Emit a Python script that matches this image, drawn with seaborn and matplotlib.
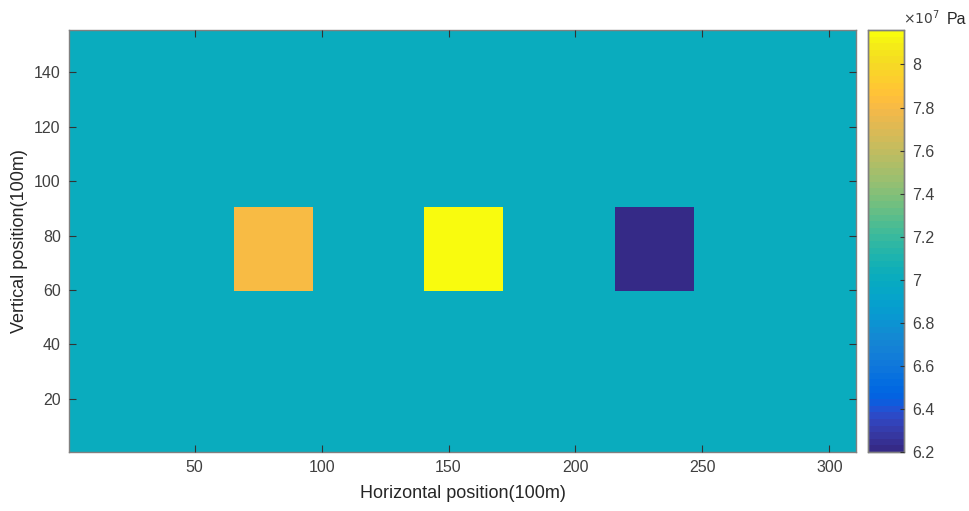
import numpy as np
import matplotlib
matplotlib.use("Agg")
import matplotlib.pyplot as plt
from matplotlib.colors import ListedColormap
import seaborn as sns

# Grid size (cells) and pressure field description
n_cols = 310
n_rows = 155
background_pa = 7.0e7
block_cols = [(66, 96), (141, 171), (216, 246)]   # inclusive column ranges (1-based)
block_rows = [(60, 90), (60, 90), (60, 90)]       # inclusive row ranges (1-based)
block_values = [7.8e7, 8.16e7, 6.2e7]

x_ticks = [50, 100, 150, 200, 250, 300]
y_ticks = [20, 40, 60, 80, 100, 120, 140]
cbar_ticks = [6.2, 6.4, 6.6, 6.8, 7.0, 7.2, 7.4, 7.6, 7.8, 8.0]

# MATLAB parula colormap, 64 entries
parula = [
    [0.2081, 0.1663, 0.5292], [0.2116, 0.1898, 0.5777], [0.2123, 0.2138, 0.6270], [0.2081, 0.2386, 0.6771],
    [0.1959, 0.2645, 0.7279], [0.1707, 0.2919, 0.7792], [0.1253, 0.3242, 0.8303], [0.0591, 0.3598, 0.8683],
    [0.0117, 0.3875, 0.8820], [0.0060, 0.4086, 0.8828], [0.0165, 0.4266, 0.8786], [0.0329, 0.4430, 0.8720],
    [0.0498, 0.4586, 0.8641], [0.0629, 0.4737, 0.8554], [0.0723, 0.4887, 0.8467], [0.0779, 0.5040, 0.8384],
    [0.0793, 0.5200, 0.8312], [0.0749, 0.5375, 0.8263], [0.0641, 0.5570, 0.8240], [0.0488, 0.5772, 0.8228],
    [0.0343, 0.5966, 0.8199], [0.0265, 0.6137, 0.8135], [0.0239, 0.6287, 0.8038], [0.0231, 0.6418, 0.7913],
    [0.0228, 0.6535, 0.7768], [0.0267, 0.6642, 0.7607], [0.0384, 0.6743, 0.7436], [0.0590, 0.6838, 0.7254],
    [0.0843, 0.6928, 0.7062], [0.1133, 0.7015, 0.6859], [0.1453, 0.7098, 0.6646], [0.1801, 0.7177, 0.6424],
    [0.2178, 0.7250, 0.6193], [0.2586, 0.7317, 0.5954], [0.3022, 0.7376, 0.5712], [0.3482, 0.7424, 0.5473],
    [0.3953, 0.7459, 0.5244], [0.4420, 0.7481, 0.5033], [0.4871, 0.7491, 0.4840], [0.5300, 0.7491, 0.4661],
    [0.5709, 0.7485, 0.4494], [0.6099, 0.7473, 0.4337], [0.6473, 0.7456, 0.4188], [0.6834, 0.7435, 0.4044],
    [0.7184, 0.7411, 0.3905], [0.7525, 0.7384, 0.3768], [0.7858, 0.7356, 0.3633], [0.8185, 0.7327, 0.3498],
    [0.8507, 0.7299, 0.3360], [0.8824, 0.7274, 0.3217], [0.9139, 0.7258, 0.3063], [0.9450, 0.7261, 0.2886],
    [0.9739, 0.7314, 0.2666], [0.9938, 0.7455, 0.2403], [0.9990, 0.7653, 0.2164], [0.9955, 0.7861, 0.1967],
    [0.9880, 0.8066, 0.1794], [0.9789, 0.8271, 0.1633], [0.9697, 0.8481, 0.1475], [0.9626, 0.8705, 0.1309],
    [0.9589, 0.8949, 0.1132], [0.9598, 0.9218, 0.0948], [0.9661, 0.9514, 0.0755], [0.9763, 0.9831, 0.0538],
]
cmap = ListedColormap(parula, name="parula")

# Build the pressure field
field = np.full((n_rows, n_cols), background_pa)
for (c0, c1), (r0, r1), v in zip(block_cols, block_rows, block_values):
    field[r0 - 1:r1, c0 - 1:c1] = v
field_e7 = field / 1e7

sns.set_theme(style="white")
plt.rcParams["font.family"] = ["Liberation Sans", "DejaVu Sans"]
plt.rcParams["axes.axisbelow"] = False

W, H = 969, 511
fig = plt.figure(figsize=(W / 100, H / 100), dpi=100)
ax = fig.add_axes([69 / W, 1 - 452 / H, (856 - 69) / W, (452 - 30) / H])
cax = fig.add_axes([868 / W, 1 - 452 / H, (904 - 868) / W, (452 - 30) / H])

sns.heatmap(field_e7, ax=ax, cbar_ax=cax, cmap=cmap,
            vmin=block_values[2] / 1e7, vmax=block_values[1] / 1e7,
            xticklabels=False, yticklabels=False, rasterized=True)
ax.invert_yaxis()
ax.set_axisbelow(False)
cax.set_axisbelow(False)

text_color = "#404040"
frame_color = "#808080"

ax.set_xticks([t - 0.5 for t in x_ticks])
ax.set_xticklabels([str(t) for t in x_ticks])
ax.set_yticks([t - 0.5 for t in y_ticks])
ax.set_yticklabels([str(t) for t in y_ticks], rotation=0)
ax.tick_params(axis="both", direction="in", length=5, width=0.8, color="#333333",
               labelsize=11.5, labelcolor=text_color, pad=6,
               bottom=True, left=True, top=True, right=True)
ax.tick_params(axis="x", labeltop=False)
ax.tick_params(axis="y", labelright=False)
for s in ax.spines.values():
    s.set_visible(True)
    s.set_color(frame_color)
    s.set_linewidth(1.0)

ax.set_xlabel("Horizontal position(100m)", fontsize=13, color="#262626", labelpad=7)
ax.set_ylabel("Vertical position(100m)", fontsize=13, color="#262626", labelpad=4)

# Colorbar styling
cax.set_yticks(cbar_ticks)
cax.set_yticklabels([f"{t:g}" for t in cbar_ticks])
cax.tick_params(axis="y", direction="in", length=3, width=0.8, color="#333333",
                labelsize=11.5, labelcolor=text_color, right=True, left=False, pad=6)
for s in cax.spines.values():
    s.set_visible(True)
    s.set_color(frame_color)
    s.set_linewidth(1.0)
cax.text(0.98, 1.006, r"$\times10^{7}$", transform=cax.transAxes,
         ha="left", va="bottom", fontsize=10, color="#404040")
cax.text(2.2, 1.006, "Pa", transform=cax.transAxes,
         ha="left", va="bottom", fontsize=11.5, color="#262626")

fig.savefig("out.png", dpi=100)
